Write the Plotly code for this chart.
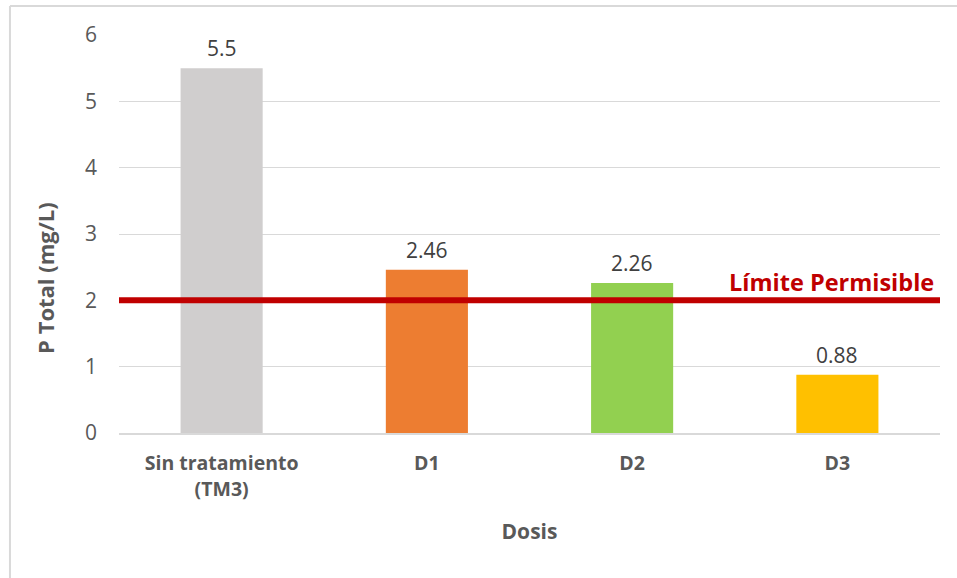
import plotly.graph_objects as go

categories = ["Sin tratamiento<br>(TM3)", "D1", "D2", "D3"]
values = [5.5, 2.46, 2.26, 0.88]
labels = ["5.5", "2.46", "2.26", "0.88"]
colors = ["#D0CECE", "#ED7D31", "#92D050", "#FFC000"]
limit_value = 2
limit_label = "Límite Permisible"
y_ticks = [0, 1, 2, 3, 4, 5, 6]

FONT = "Open Sans"

fig = go.Figure()
fig.add_trace(go.Bar(
    x=categories, y=values, marker=dict(color=colors, line=dict(width=0)),
))

for c, v, t in zip(categories, values, labels):
    fig.add_annotation(x=c, y=v, text=t, showarrow=False, yanchor="bottom",
                       yshift=4, font=dict(family=FONT, size=21, color="#404040"))

fig.add_shape(type="line", xref="paper", yref="y", x0=0, x1=1,
              y0=limit_value, y1=limit_value,
              line=dict(color="#C00000", width=6), layer="above")
fig.add_annotation(xref="paper", yref="y", x=1, y=limit_value,
                   text="<b>" + limit_label + "</b>", showarrow=False,
                   xanchor="right", yanchor="bottom", yshift=0, xshift=-4,
                   font=dict(family=FONT, size=23.5, color="#C00000"))

# y-axis title (placed lower than plot centre, as in the reference)
fig.add_annotation(xref="paper", yref="paper", x=-0.09, y=0.39,
                   text="<b>P Total (mg/L)</b>", showarrow=False, textangle=-90,
                   xanchor="center", yanchor="middle",
                   font=dict(family=FONT, size=22, color="#595959"))

# chart border (left and top edges visible)
fig.add_shape(type="line", xref="paper", yref="paper", x0=-0.1328, x1=-0.1328,
              y0=-0.4, y1=1.0729, line=dict(color="#D9D9D9", width=2))
fig.add_shape(type="line", xref="paper", yref="paper", x0=-0.1328, x1=1.03,
              y0=1.0729, y1=1.0729, line=dict(color="#D9D9D9", width=2))

fig.update_layout(
    width=957, height=578,
    margin=dict(l=119, r=17, t=35, b=145),
    plot_bgcolor="white", paper_bgcolor="white",
    showlegend=False, bargap=0.6,
    font=dict(family=FONT, color="#595959"),
)
fig.update_yaxes(range=[0, 6], tickvals=y_ticks, showgrid=True, gridcolor="#D9D9D9",
                 gridwidth=1, zeroline=False, showline=False,
                 tickfont=dict(family=FONT, size=21, color="#595959"),
                 ticklabelstandoff=21)
fig.update_xaxes(showline=True, linecolor="#D9D9D9", linewidth=2, showgrid=False,
                 tickfont=dict(family=FONT, size=19.5, color="#595959"),
                 ticklabelstandoff=12,
                 tickprefix="<b>", ticksuffix="</b>",
                 title=dict(text="<b>Dosis</b>", standoff=24,
                            font=dict(family=FONT, size=21, color="#595959")))

fig.write_html("out.html")
